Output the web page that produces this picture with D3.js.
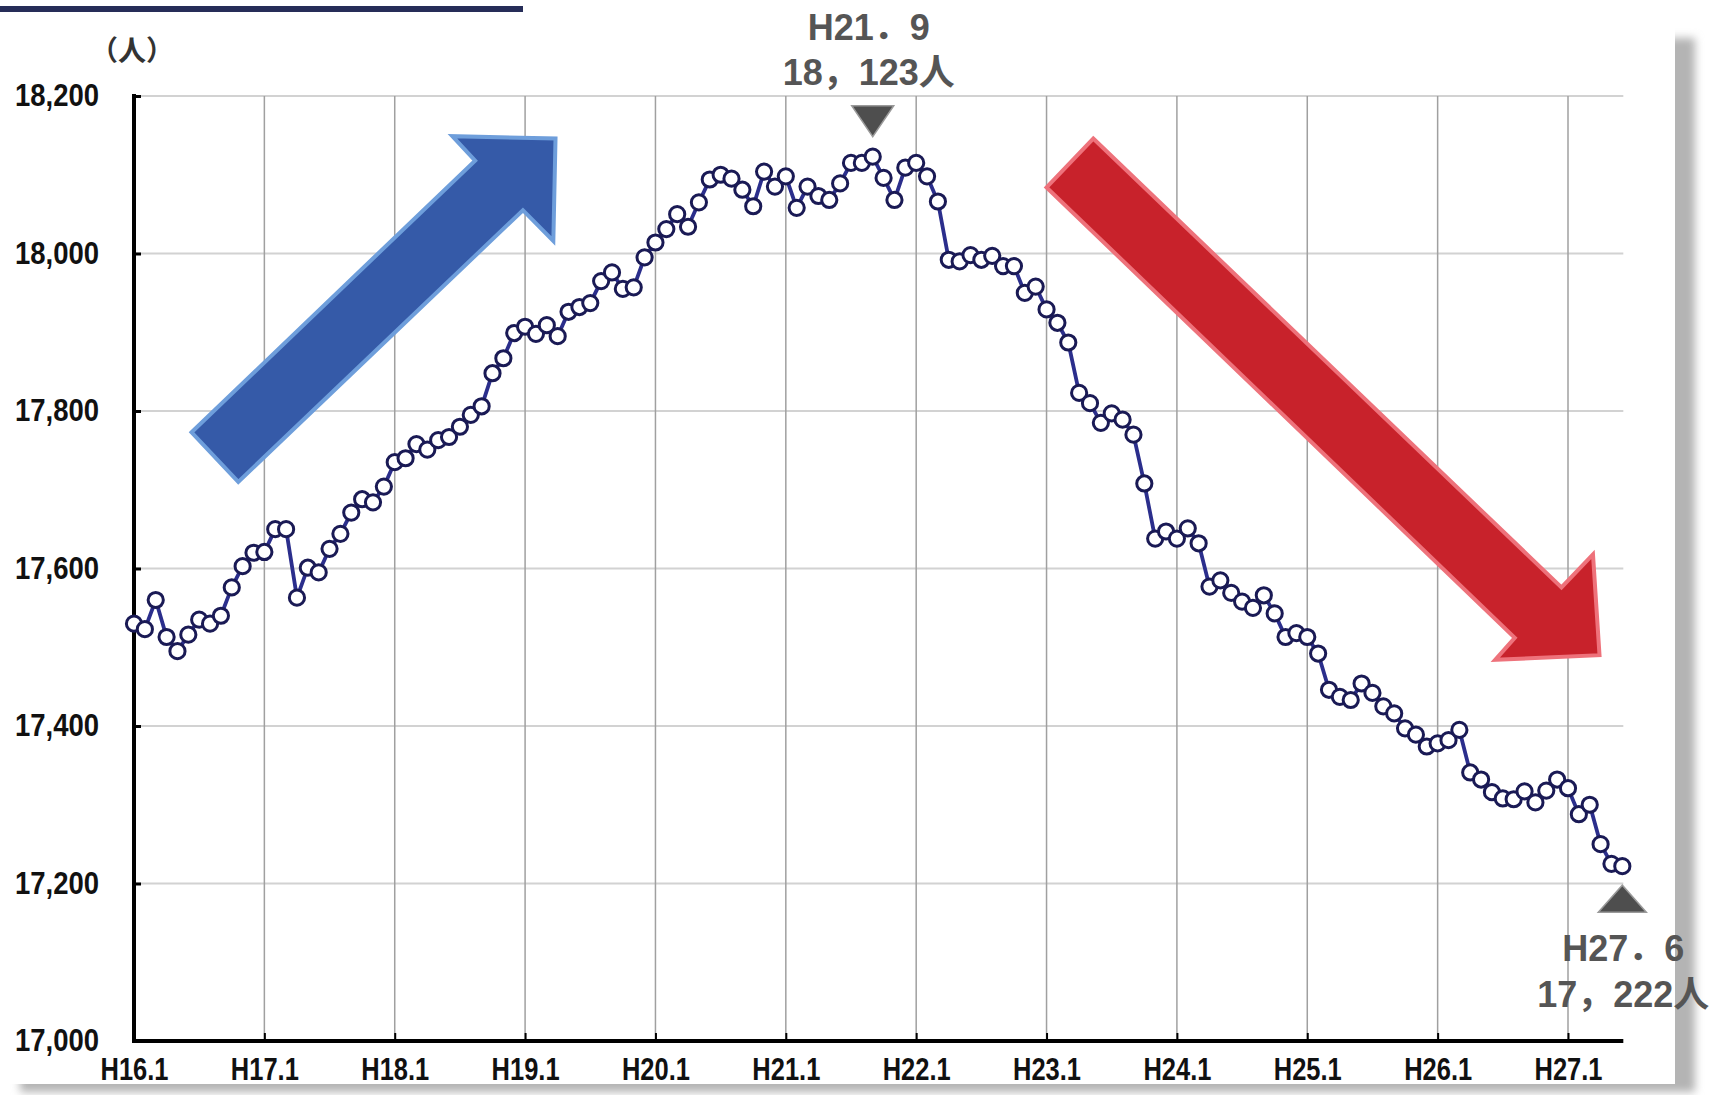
<!DOCTYPE html>
<html>
<head>
<meta charset="utf-8">
<script src="https://cdn.jsdelivr.net/npm/d3@7"></script>
<style>
  html, body { margin: 0; padding: 0; background: #fff; overflow: hidden; }
  .lbl { font-family: "Liberation Sans Narrow", "Liberation Sans", Arial, sans-serif; font-weight: bold; font-size: 32px; fill: #111; }
  .note { font-family: "Liberation Sans", Arial, "Noto Sans CJK JP", sans-serif; font-weight: bold; font-size: 36px; fill: #555; }
</style>
</head>
<body>
<div id="chart"></div>
<script>
// monthly headcount, index 0 = H16.1 ... 137 = H27.6
var counts = [
  17530, 17523, 17560, 17513, 17495, 17516, 17535, 17530, 17540, 17576, 17603, 17620,
  17621, 17650, 17650, 17563, 17601, 17595, 17625, 17644, 17671, 17688, 17684, 17704,
  17735, 17740, 17758, 17751, 17763, 17767, 17780, 17795, 17806, 17848, 17867, 17899,
  17907, 17898, 17909, 17895, 17926, 17932, 17937, 17965, 17976, 17955, 17957, 17995,
  18014, 18031, 18050, 18034, 18065, 18094, 18100, 18095, 18081, 18060, 18104, 18085,
  18098, 18058, 18085, 18073, 18068, 18089, 18115, 18115, 18123, 18096, 18068, 18109,
  18115, 18098, 18066, 17992, 17990, 17998, 17992, 17997, 17984, 17984, 17950, 17958,
  17929, 17912, 17887, 17823, 17810, 17785, 17797, 17789, 17770, 17708, 17638, 17647,
  17638, 17651, 17632, 17577, 17585, 17569, 17558, 17550, 17566, 17543, 17513, 17518,
  17513, 17492, 17446, 17437, 17433, 17454, 17442, 17425, 17416, 17397, 17389, 17374,
  17378, 17382, 17395, 17341, 17332, 17316, 17308, 17307, 17317, 17303, 17318, 17332,
  17321, 17288, 17300, 17250, 17225, 17222
]
var yearLabels = ['H16.1', 'H17.1', 'H18.1', 'H19.1', 'H20.1', 'H21.1', 'H22.1', 'H23.1', 'H24.1', 'H25.1', 'H26.1', 'H27.1']
var yTicks = [17000, 17200, 17400, 17600, 17800, 18000, 18200]
var unitLabel = '（人）'
var peakNote = { m: 68, lines: ['H21．9', '18，123人'] }
var lastNote = { m: 137, lines: ['H27．6', '17，222人'] }
// big trend arrows, in [month, value]
var upArrow = [[5.3, 17773], [31.4, 18118], [29.3, 18149], [38.8, 18146], [38.6, 18016], [35.8, 18055], [9.6, 17710]]
var downArrow = [[88.3, 18146], [131.4, 17576], [134.3, 17618], [134.9, 17490], [125.3, 17484], [127.1, 17512], [84.0, 18084]]

var width = 1713
var height = 1095

var x = d3.scaleLinear().domain([0, 132]).range([134, 1568])
var y = d3.scaleLinear().domain([17000, 18200]).range([1041, 96])
var lastM = counts.length - 1

var svg = d3.select('#chart').append('svg')
  .attr('width', width)
  .attr('height', height)

var defs = svg.append('defs')
defs.append('filter').attr('id', 'blur')
  .append('feGaussianBlur').attr('stdDeviation', 4)

// panel + drop shadow
svg.append('rect')
  .attr('x', 20).attr('y', 38).attr('width', 1675).attr('height', 1054)
  .attr('fill', '#b4b4b4').attr('filter', 'url(#blur)')
svg.append('rect')
  .attr('x', 0).attr('y', 20).attr('width', 1675).attr('height', 1064)
  .attr('fill', '#fff')

// title bar remnant
svg.append('rect')
  .attr('x', 0).attr('y', 6).attr('width', 523).attr('height', 6)
  .attr('fill', '#262d58')

// grid
var grid = svg.append('g')
grid.selectAll('.hgrid')
  .data(yTicks.slice(1))
  .enter().append('line')
  .attr('x1', x(0)).attr('x2', x(lastM) + 1)
  .attr('y1', d => y(d)).attr('y2', d => y(d))
  .attr('stroke', '#d2d2d2').attr('stroke-width', 2.2)
grid.selectAll('.vgrid')
  .data(d3.range(12, 133, 12))
  .enter().append('line')
  .attr('x1', d => x(d)).attr('x2', d => x(d))
  .attr('y1', y(18200)).attr('y2', y(17000))
  .attr('stroke', '#a0a0a0').attr('stroke-width', 1.5)

// arrows
var poly = d3.line().x(d => x(d[0])).y(d => y(d[1]))
svg.append('path')
  .attr('d', poly(upArrow) + 'Z')
  .attr('fill', '#355aa8').attr('stroke', '#6e9edb').attr('stroke-width', 4)
  .attr('stroke-linejoin', 'miter')
svg.append('path')
  .attr('d', poly(downArrow) + 'Z')
  .attr('fill', '#c8222b').attr('stroke', '#ee727b').attr('stroke-width', 4)
  .attr('stroke-linejoin', 'miter')

// axes
var yAxis = d3.axisLeft(y).tickValues(yTicks).tickFormat(d3.format(','))
  .tickSize(-7).tickSizeOuter(0).tickPadding(35)
var gy = svg.append('g').attr('transform', 'translate(' + x(0) + ',0)').call(yAxis)
gy.select('.domain').remove()
gy.selectAll('.tick line').attr('stroke', '#000').attr('stroke-width', 3)
gy.selectAll('.tick text').attr('class', 'lbl').attr('dy', '0.3em')
  .attr('textLength', 84).attr('lengthAdjust', 'spacingAndGlyphs')

var xAxis = d3.axisBottom(x).tickValues(d3.range(0, 133, 12))
  .tickFormat((d, i) => yearLabels[i])
  .tickSize(-8).tickSizeOuter(0).tickPadding(16)
var gx = svg.append('g').attr('transform', 'translate(0,' + y(17000) + ')').call(xAxis)
gx.select('.domain').remove()
gx.selectAll('.tick line').attr('stroke', '#000').attr('stroke-width', 2)
gx.selectAll('.tick text').attr('class', 'lbl')
  .attr('textLength', 68).attr('lengthAdjust', 'spacingAndGlyphs')

svg.append('line')
  .attr('x1', x(0)).attr('x2', x(0))
  .attr('y1', y(18200) - 2).attr('y2', y(17000) + 2)
  .attr('stroke', '#000').attr('stroke-width', 4)
svg.append('line')
  .attr('x1', x(0) - 2).attr('x2', x(lastM) + 1)
  .attr('y1', y(17000)).attr('y2', y(17000))
  .attr('stroke', '#000').attr('stroke-width', 4)

svg.append('text')
  .attr('x', x(0) - 2).attr('y', 61)
  .attr('text-anchor', 'middle')
  .style('font-family', '"Noto Sans CJK JP", sans-serif')
  .style('font-size', '28px')
  .style('font-weight', 'bold')
  .style('fill', '#333')
  .text(unitLabel)

// series
var line = d3.line().x((d, i) => x(i)).y(d => y(d))
svg.append('path')
  .datum(counts)
  .attr('d', line)
  .attr('fill', 'none')
  .attr('stroke', '#2b2e8c')
  .attr('stroke-width', 3.8)

svg.append('g').selectAll('circle')
  .data(counts)
  .enter().append('circle')
  .attr('cx', (d, i) => x(i))
  .attr('cy', d => y(d))
  .attr('r', 7.6)
  .attr('fill', '#fff')
  .attr('stroke', '#1a1a55')
  .attr('stroke-width', 3)

// peak / latest markers
var pk = { x: x(peakNote.m), y: y(counts[peakNote.m]) }
svg.append('path')
  .attr('d', 'M' + (pk.x - 21) + ',' + (pk.y - 51) + 'L' + (pk.x + 21) + ',' + (pk.y - 51) + 'L' + pk.x + ',' + (pk.y - 20) + 'Z')
  .attr('fill', '#4e4e4e').attr('stroke', '#9a9a9a').attr('stroke-width', 1.5)
svg.append('g').selectAll('text')
  .data(peakNote.lines)
  .enter().append('text')
  .attr('class', 'note')
  .attr('x', pk.x - 4)
  .attr('y', (d, i) => 40 + i * 45)
  .attr('text-anchor', 'middle')
  .text(d => d)

var ls = { x: x(lastNote.m), y: y(counts[lastNote.m]) }
svg.append('path')
  .attr('d', 'M' + (ls.x - 24) + ',' + (ls.y + 46) + 'L' + (ls.x + 24) + ',' + (ls.y + 46) + 'L' + ls.x + ',' + (ls.y + 19) + 'Z')
  .attr('fill', '#4e4e4e').attr('stroke', '#9a9a9a').attr('stroke-width', 1.5)
svg.append('g').selectAll('text')
  .data(lastNote.lines)
  .enter().append('text')
  .attr('class', 'note')
  .attr('x', ls.x + 1)
  .attr('y', (d, i) => ls.y + 95 + i * 46)
  .attr('text-anchor', 'middle')
  .text(d => d)
</script>
</body>
</html>
